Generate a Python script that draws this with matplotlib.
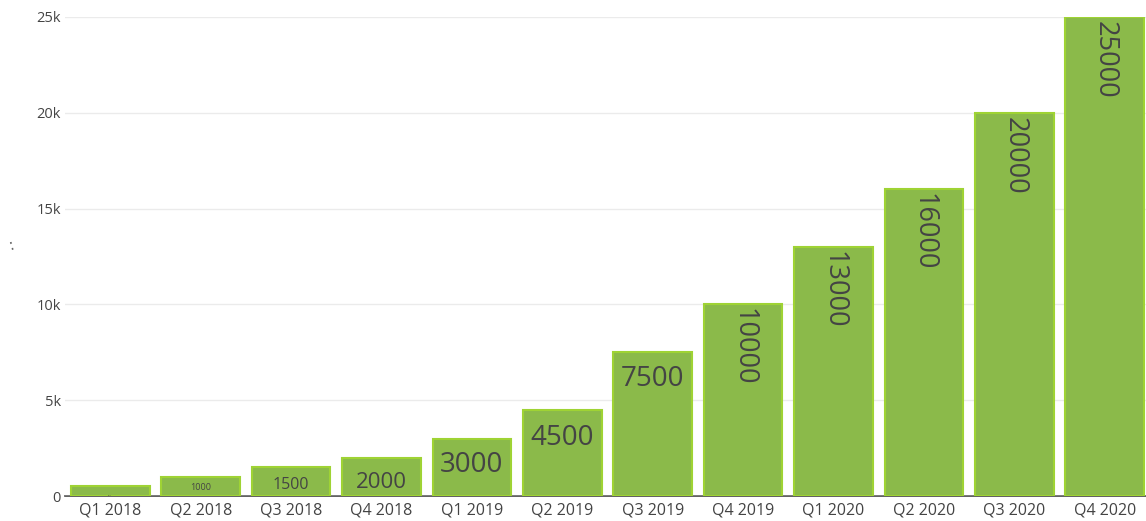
import matplotlib
matplotlib.use("Agg")
import matplotlib.pyplot as plt

categories = ["Q1 2018", "Q2 2018", "Q3 2018", "Q4 2018", "Q1 2019", "Q2 2019",
              "Q3 2019", "Q4 2019", "Q1 2020", "Q2 2020", "Q3 2020", "Q4 2020"]
values = [500, 1000, 1500, 2000, 3000, 4500, 7500, 10000, 13000, 16000, 20000, 25000]
label_sizes = [1.5, 6.5, 11.5, 16, 20, 20, 20, 19.5, 19.5, 19.5, 19.5, 19.5]
label_rotations = [0, 0, 0, 0, 0, 0, 0, -90, -90, -90, -90, -90]
label_offsets_px = [9, 6, 10, 14, 12, 14, 13, 4, 4, 4, 4, 4]
yticks = [0, 5000, 10000, 15000, 20000, 25000]
ytick_labels = ["0", "5k", "10k", "15k", "20k", "25k"]

plt.rcParams['font.family'] = ['Open Sans', 'DejaVu Sans']

W, H = 1146, 521
fig = plt.figure(figsize=(W / 100, H / 100), dpi=100)
ax = fig.add_axes([65 / W, (H - 496) / H, (1150 - 65) / W, (496 - 17) / H])

x = list(range(len(categories)))
ax.bar(x, values, width=0.87, color="#8bba4a", edgecolor="#9fd334", linewidth=1.5, zorder=2)

ax.set_xlim(-0.5, len(categories) - 0.5)
ax.set_ylim(0, 25000)
ax.set_yticks(yticks)
ax.set_yticklabels(ytick_labels)
ax.set_xticks(x)
ax.set_xticklabels(categories)
ax.tick_params(axis='both', length=0, labelcolor="#444444")
ax.tick_params(axis='y', pad=3, labelsize=10.5)
ax.tick_params(axis='x', pad=5, labelsize=11.5)
ax.grid(axis='y', color="#ebebeb", linewidth=1, zorder=0)
for s in ["top", "right", "left"]:
    ax.spines[s].set_visible(False)
ax.spines["bottom"].set_color("#444444")
ax.spines["bottom"].set_linewidth(1.2)
ax.spines["bottom"].set_zorder(1)

px_per_unit = (496 - 17) / 25000.0
for xi, v, fs, rot, offp in zip(x, values, label_sizes, label_rotations, label_offsets_px):
    off = offp / px_per_unit
    ax.text(xi, v - off, str(v), ha='center', va='top', fontsize=fs,
            color="#444444", rotation=rot, zorder=3)

fig.text(12 / W, 1 - 246 / H, ":", fontsize=11, color="#444444", ha='center', va='center', rotation=15)

fig.savefig("out.png", dpi=100)
